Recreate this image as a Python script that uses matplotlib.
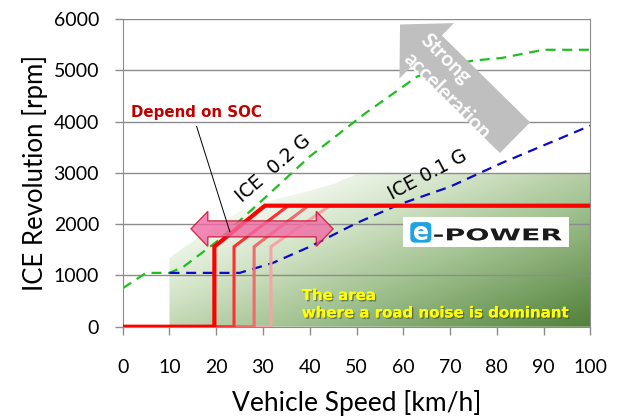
import numpy as np
import matplotlib
matplotlib.use("Agg")
import matplotlib.pyplot as plt
from matplotlib.patches import Polygon, FancyArrowPatch, FancyBboxPatch, PathPatch, Rectangle
from matplotlib.colors import LinearSegmentedColormap
from matplotlib.textpath import TextPath
from matplotlib.font_manager import FontProperties
from matplotlib.transforms import Affine2D
import matplotlib.patheffects as pe

# engine speed needed for 0.2 G / 0.1 G acceleration
g02_speed = [0, 5, 10, 13, 20, 30, 40, 52, 63, 70, 75, 81, 90, 100]
g02_rpm = [750, 1050, 1050, 1170, 1650, 2480, 3320, 4170, 4880, 5100, 5190, 5240, 5400, 5400]
g01_speed = [10, 25, 32, 40, 50, 59, 70, 81, 100]
g01_rpm = [1050, 1050, 1240, 1560, 2020, 2380, 2730, 3190, 3920]

# e-POWER engine start lines, one per state of charge
soc_start = [31.7, 28.1, 23.8, 19.6]
soc_ramp_end = [44.3, 39.7, 35.4, 30.4]
soc_colors = ["#f5a5a5", "#f26a6a", "#ff3030", "#ff0000"]
soc_widths = [2.2, 2.2, 2.2, 3.0]
knee_rpm = 1560
plateau_rpm = 2360

# road-noise dominant region outline
area_speed = [10, 10, 12.3, 18.7, 25, 31, 40, 45, 48, 51, 100, 100]
area_rpm = [0, 1335, 1500, 1890, 2250, 2450, 2650, 2780, 2900, 3000, 3000, 0]

xticks = list(range(0, 101, 10))
yticks = list(range(0, 6001, 1000))

fig = plt.figure(figsize=(6.3, 4.17), dpi=100)
ax = fig.add_axes([0.1948, 0.2165, 0.7422, 0.7379])
ax.set_xlim(0, 100)
ax.set_ylim(0, 6000)

# gradient fill clipped to the region
xs = np.linspace(10, 100, 300)
ys = np.linspace(0, 3000, 300)
X, Y = np.meshgrid(xs, ys)
shade = np.clip((224 - 0.84 * X + 0.0223 * Y - 140) / 115, 0, 1)
greens = LinearSegmentedColormap.from_list(
    "greens", [(0, "#51813a"), (0.5, "#a6c696"), (0.57, "#b2cca2"),
               (0.75, "#d0e2c4"), (1, "#f4f9f1")])
area = Polygon(np.column_stack([area_speed, area_rpm]), closed=True,
               facecolor="none", edgecolor="none")
ax.add_patch(area)
im = ax.imshow(shade, cmap=greens, vmin=0, vmax=1, origin="lower",
               extent=[10, 100, 0, 3000], aspect="auto", zorder=0.5)
im.set_clip_path(area)

for y in yticks[1:]:
    ax.axhline(y, color="#8c8c8c", lw=1.0, zorder=1)

ax.plot(g02_speed, g02_rpm, color="#1fbf1f", lw=1.6, dashes=(4.5, 3), zorder=2)
ax.plot(g01_speed, g01_rpm, color="#0a0ac8", lw=1.6, dashes=(4.5, 3), zorder=2)

for xs0, xe, c, lw in zip(soc_start, soc_ramp_end, soc_colors, soc_widths):
    ax.plot([0, xs0, xs0, xe, 100], [0, 0, knee_rpm, plateau_rpm, plateau_rpm],
            color=c, lw=lw, solid_joinstyle="miter", zorder=3)

# big grey arrow
big = FancyArrowPatch((83.9, 3686), (59.3, 5893), mutation_scale=1,
                      arrowstyle="simple,head_length=27,head_width=56,tail_width=31",
                      shrinkA=0, shrinkB=0, color="#bfbfbf", lw=0, zorder=4)
ax.add_patch(big)
ax.text(64.4, 5660, "Strong", rotation=-45, rotation_mode="anchor",
        ha="left", va="center", color="white", fontsize=15, family="Lato",
        fontweight="bold", zorder=5)
ax.text(60.8, 5290, "acceleration", rotation=-45, rotation_mode="anchor",
        ha="left", va="center", color="white", fontsize=15, family="Lato",
        fontweight="bold", zorder=5)

# pink double arrow
cy, sh, hh, hl = 1908, 156, 342, 3.6
x0, x1 = 14.6, 45.0
pts = [(x0, cy), (x0 + hl, cy + hh), (x0 + hl, cy + sh), (x1 - hl, cy + sh),
       (x1 - hl, cy + hh), (x1, cy), (x1 - hl, cy - hh), (x1 - hl, cy - sh),
       (x0 + hl, cy - sh), (x0 + hl, cy - hh)]
ax.add_patch(Polygon(pts, closed=True, facecolor="#f06aa4", alpha=0.8,
                     edgecolor="#c8102e", lw=1.0, zorder=4))

ax.plot([15.8, 22.9], [3906, 1855], color="black", lw=0.7, zorder=5)
ax.text(1.8, 4174, "Depend on SOC", color="#c00000", fontsize=10.8,
        fontweight="bold", ha="left", va="center", zorder=5)

ax.text(32.2, 3094, "ICE  0.2 G", rotation=41, rotation_mode="anchor",
        ha="center", va="center", fontsize=13.5, zorder=5)
ax.text(65.1, 2963, "ICE 0.1 G", rotation=28, rotation_mode="anchor",
        ha="center", va="center", fontsize=13.5, zorder=5)

ax.text(38.3, 440, "The area\nwhere a road noise is dominant", color="#ffff00",
        fontsize=10.8, fontweight="bold", ha="left", va="center", linespacing=1.2,
        path_effects=[pe.withSimplePatchShadow(offset=(1, -1), shadow_rgbFace="#303010", alpha=0.5),
                      pe.Normal()], zorder=5)

# e-POWER badge
ax.add_patch(Rectangle((60.0, 1562), 35.4, 575, facecolor="white",
                       edgecolor="none", zorder=5))
ax.add_patch(FancyBboxPatch((61.5, 1640), 4.5, 400, boxstyle="round,pad=0,rounding_size=1",
                            mutation_aspect=90, facecolor="#1ea2e4", edgecolor="none", zorder=6))
ax.text(63.75, 1830, "e", color="white", fontsize=17, fontweight="bold",
        ha="center", va="center", zorder=7)
tp = TextPath((0, 0), "-POWER", size=10, prop=FontProperties(family="DejaVu Sans", weight="bold"))
bb = tp.get_extents()
tr = (Affine2D().translate(-bb.x0, -bb.y0)
      .scale((93.9 - 66.6) / bb.width, (1920 - 1680) / bb.height)
      .translate(66.6, 1680) + ax.transData)
ax.add_patch(PathPatch(tp, transform=tr, facecolor="#1a1a1a", edgecolor="none", zorder=7))

for s in ["left", "bottom", "right"]:
    ax.spines[s].set_color("#8c8c8c")
ax.spines["top"].set_visible(False)
ax.set_xticks(xticks)
ax.set_yticks(yticks)
ax.tick_params(axis="both", colors="#8c8c8c", labelcolor="black", length=6,
               labelsize=14, width=1)
ax.tick_params(axis="x", pad=17)
ax.tick_params(axis="y", pad=11)
for lab in ax.get_xticklabels() + ax.get_yticklabels():
    lab.set_family("Lato")
ax.set_xlabel("Vehicle Speed [km/h]", fontsize=19, family="Lato", labelpad=10)
ax.set_ylabel("ICE Revolution [rpm]", fontsize=18.5, family="Lato", labelpad=4)

fig.savefig("out.png", dpi=100)
